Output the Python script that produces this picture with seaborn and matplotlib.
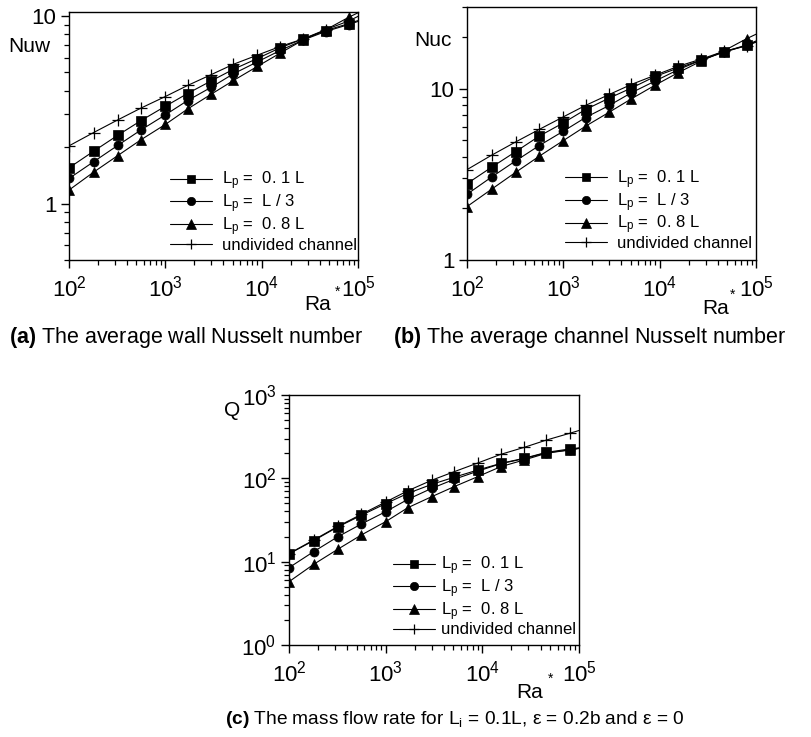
import numpy as np
import pandas as pd
import matplotlib
matplotlib.use("Agg")
import matplotlib.pyplot as plt
from matplotlib.lines import Line2D
from matplotlib.ticker import (LogLocator, NullFormatter, FixedLocator,
                               FixedFormatter, LogFormatterMathtext)
import seaborn as sns

# Ra* values (last point only carries the line to the frame)
ra = [100, 180, 320, 560, 1000, 1700, 3000, 5100, 9000, 15500, 27000, 46000, 80000, 100000]

case_labels = [r"L$_\mathregular{p}$ =  0. 1 L",
               r"L$_\mathregular{p}$ =  L / 3",
               r"L$_\mathregular{p}$ =  0. 8 L",
               "undivided channel"]

# (a) wall Nusselt number
nuw_01 = [1.55, 1.90, 2.31, 2.77, 3.30, 3.86, 4.51, 5.20, 5.93, 6.76, 7.55, 8.36, 9.10, 9.45]
nuw_l3 = [1.36, 1.67, 2.04, 2.47, 2.97, 3.54, 4.17, 4.92, 5.69, 6.54, 7.45, 8.26, 9.00, 9.35]
nuw_08 = [1.18, 1.47, 1.80, 2.19, 2.64, 3.19, 3.83, 4.53, 5.38, 6.33, 7.45, 8.43, 9.84, 10.4]
nuw_und = [2.03, 2.39, 2.79, 3.23, 3.72, 4.26, 4.87, 5.53, 6.18, 6.87, 7.55, 8.45, 9.40, 9.95]

# (b) channel Nusselt number
nuc_01 = [2.79, 3.48, 4.29, 5.28, 6.32, 7.56, 8.82, 10.1, 11.8, 13.2, 14.7, 16.4, 18.0, 19.0]
nuc_l3 = [2.42, 3.05, 3.79, 4.65, 5.65, 6.79, 7.99, 9.48, 11.1, 12.9, 14.7, 16.3, 17.9, 18.8]
nuc_08 = [2.05, 2.59, 3.25, 4.03, 4.98, 6.04, 7.30, 8.74, 10.5, 12.4, 14.5, 16.6, 19.6, 20.8]
nuc_und = [3.37, 4.09, 4.89, 5.78, 6.85, 7.99, 9.26, 10.6, 12.0, 13.5, 14.9, 16.5, 17.8, 18.7]

# (c) mass flow rate
q_01 = [12.4, 17.9, 26.1, 36.0, 49.7, 66.1, 84.7, 103, 126, 151, 174, 205, 225, 232]
q_l3 = [8.47, 13.2, 19.9, 28.3, 39.8, 56.0, 75.9, 97.3, 122, 150, 172, 203, 219, 228]
q_08 = [5.75, 9.29, 14.1, 20.9, 30.2, 44.5, 60.3, 79.4, 105, 138, 166, 200, 219, 230]
q_und = [12.5, 18.2, 26.5, 37.0, 52.0, 71.0, 95.0, 120, 153, 194, 235, 288, 347, 375]

sns.set_theme(style="ticks")
plt.rcParams['font.family'] = ['Liberation Sans', 'DejaVu Sans']
plt.rcParams['mathtext.fontset'] = 'custom'
plt.rcParams['mathtext.rm'] = 'Liberation Sans'
plt.rcParams['mathtext.it'] = 'Liberation Sans:italic'
plt.rcParams['mathtext.bf'] = 'Liberation Sans:bold'
plt.rcParams['mathtext.default'] = 'regular'
plt.rcParams['text.color'] = 'black'
plt.rcParams['axes.labelcolor'] = 'black'
plt.rcParams['xtick.color'] = 'black'
plt.rcParams['ytick.color'] = 'black'

W, H = 811, 737
fig = plt.figure(figsize=(W / 100, H / 100), dpi=100)


def fx(px):
    return px / W


def fy(py):
    return 1 - py / H


def make_axes(x0, x1, y0, y1):
    return fig.add_axes([fx(x0), fy(y1), (x1 - x0) / W, (y1 - y0) / H])


markers = ['s', 'o', '^', '+']
msizes = [6.5, 6.5, 7, 8]


def draw_panel(ax, series, ylim):
    for vals, m, ms in zip(series, markers, msizes):
        df = pd.DataFrame({'Ra': ra, 'val': vals})
        sns.lineplot(data=df, x='Ra', y='val', ax=ax, color='black', lw=0.8,
                     marker=m, markersize=ms, markeredgewidth=0.9 if m == '+' else 0.5,
                     markerfacecolor='black', markeredgecolor='black',
                     markevery=list(range(len(ra) - 1)), errorbar=None)
    ax.set_xscale('log')
    ax.set_yscale('log')
    ax.set_xlim(100, 1e5)
    ax.set_ylim(*ylim)
    ax.set_xlabel('')
    ax.set_ylabel('')
    for s in ax.spines.values():
        s.set_color('black')
        s.set_linewidth(1.0)
    ax.xaxis.set_major_locator(LogLocator(base=10, numticks=10))
    ax.xaxis.set_major_formatter(LogFormatterMathtext())
    ax.xaxis.set_minor_locator(LogLocator(base=10, subs=np.arange(2, 10), numticks=20))
    ax.xaxis.set_minor_formatter(NullFormatter())
    ax.yaxis.set_minor_locator(LogLocator(base=10, subs=np.arange(2, 10), numticks=20))
    ax.yaxis.set_minor_formatter(NullFormatter())
    ax.tick_params(which='major', direction='out', length=6, width=1.0,
                   color='black', labelsize=16, labelcolor='black')
    ax.tick_params(which='minor', direction='out', length=3.5, width=0.9, color='black')
    ax.tick_params(axis='x', which='major', pad=5)
    ax.tick_params(axis='y', which='major', pad=3)
    handles = [Line2D([], [], color='black', lw=0.8, marker=m, markersize=ms - 0.5,
                      markerfacecolor='black', markeredgecolor='black',
                      markeredgewidth=0.9 if m == '+' else 0.5)
               for m, ms in zip(markers, msizes)]
    return handles


leg_kw = dict(loc='lower left', frameon=False, fontsize=12, handlelength=2.5,
              labelspacing=0.0, borderpad=0, borderaxespad=0)

# (a)
ax_a = make_axes(69, 358, 12, 260)
h = draw_panel(ax_a, [nuw_01, nuw_l3, nuw_08, nuw_und], (0.5, 10.5))
ax_a.yaxis.set_major_locator(FixedLocator([1, 10]))
ax_a.yaxis.set_major_formatter(FixedFormatter(['1', '10']))
ax_a.legend(h, case_labels, bbox_to_anchor=(0.349, 0.03), handletextpad=0.6, **leg_kw)

# (b)
ax_b = make_axes(467, 756, 7, 260)
h = draw_panel(ax_b, [nuc_01, nuc_l3, nuc_08, nuc_und], (1, 30))
ax_b.yaxis.set_major_locator(FixedLocator([1, 10]))
ax_b.yaxis.set_major_formatter(FixedFormatter(['1', '10']))
ax_b.legend(h, case_labels, bbox_to_anchor=(0.339, 0.035), handletextpad=0.6, **leg_kw)

# (c)
ax_c = make_axes(289, 579, 395, 645)
h = draw_panel(ax_c, [q_01, q_l3, q_08, q_und], (1, 1000))
ax_c.yaxis.set_major_locator(LogLocator(base=10, numticks=10))
ax_c.yaxis.set_major_formatter(LogFormatterMathtext())
ax_c.legend(h, case_labels, bbox_to_anchor=(0.359, 0.03), handletextpad=0.4, **leg_kw)

# axis titles
fig.text(fx(29), fy(47), 'Nuw', fontsize=15, ha='center', va='center')
fig.text(fx(433), fy(40), 'Nuc', fontsize=15, ha='center', va='center')
fig.text(fx(232), fy(411), 'Q', fontsize=15, ha='center', va='center')

for xr, ys, xs, yst in [(318, 305, 338, 292), (716, 309, 733, 295), (530, 692, 551, 679)]:
    fig.text(fx(xr), fy(ys), 'Ra', fontsize=15, ha='center', va='center')
    fig.text(fx(xs), fy(yst), '*', fontsize=10, ha='center', va='center')

# captions
fig.text(fx(186), fy(338), r"$\mathbf{(a)}$ The average wall Nusselt number",
         fontsize=15.5, ha='center', va='center')
fig.text(fx(590), fy(338), r"$\mathbf{(b)}$ The average channel Nusselt number",
         fontsize=15.5, ha='center', va='center')
fig.text(fx(455), fy(720),
         r"$\mathbf{(c)}$ The mass flow rate for L$_\mathregular{i}$ = 0.1L, ε = 0.2b and ε = 0",
         fontsize=13.8, ha='center', va='center')

fig.savefig('out.png', dpi=100, facecolor='white')
